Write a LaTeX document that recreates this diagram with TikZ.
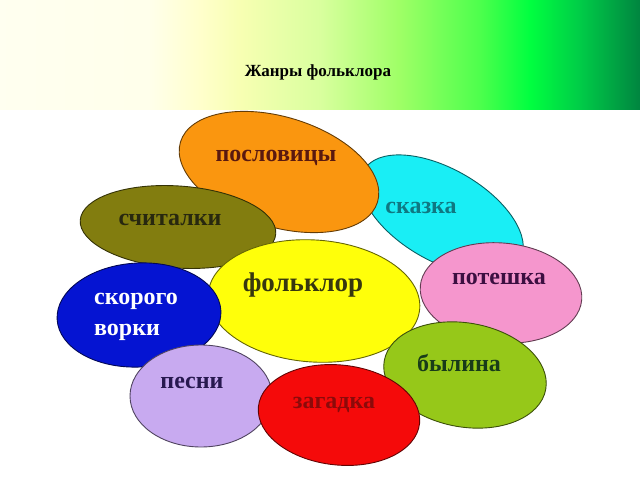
\documentclass[tikz,border=0pt]{standalone}
\usepackage{fontspec}
\setmainfont{Liberation Serif}
\usetikzlibrary{shapes.geometric}

\definecolor{skazkafill}{RGB}{25,238,245}
\definecolor{poslfill}{RGB}{250,150,15}
\definecolor{schitfill}{RGB}{130,125,15}
\definecolor{folkfill}{RGB}{255,255,10}
\definecolor{poteshfill}{RGB}{245,150,205}
\definecolor{bylinafill}{RGB}{150,200,25}
\definecolor{skorfill}{RGB}{5,20,210}
\definecolor{pesnifill}{RGB}{200,170,240}
\definecolor{zagadfill}{RGB}{245,10,10}

\definecolor{posltext}{RGB}{90,25,15}
\definecolor{skazkatext}{RGB}{15,120,130}
\definecolor{schittext}{RGB}{40,40,15}
\definecolor{folktext}{RGB}{55,55,15}
\definecolor{poteshtext}{RGB}{60,15,65}
\definecolor{pesnitext}{RGB}{40,25,80}
\definecolor{zagadtext}{RGB}{140,10,10}
\definecolor{bylinatext}{RGB}{25,60,25}

\pgfdeclarehorizontalshading{bandshade}{100bp}{rgb(0bp)=(1,1,0.94); rgb(25bp)=(1,1,0.94); rgb(36.7bp)=(1,1,0.92); rgb(40.6bp)=(1,1,0.80); rgb(43.75bp)=(0.97,1,0.70); rgb(50bp)=(0.85,1,0.62); rgb(56.25bp)=(0.62,1,0.40); rgb(62.5bp)=(0.30,1,0.30); rgb(66.4bp)=(0,1,0.25); rgb(70.3bp)=(0,0.80,0.28); rgb(75bp)=(0,0.52,0.25); rgb(100bp)=(0,0.52,0.25)}

\tikzset{
  blob/.style={ellipse, draw=#1!40!black, fill=#1, line width=0.9pt, inner sep=0pt},
  lbl/.style={text=#1, font=\bfseries\fontsize{24}{31}\selectfont, inner sep=0pt}
}

\begin{document}
\begin{tikzpicture}[x=1pt, y=1pt]
  \useasboundingbox (0,0) rectangle (640,480);
  % top band
  \shade[shading=bandshade] (0,370) rectangle (640,480);
  \node (title) at (318,408) [font=\bfseries\fontsize{17}{20}\selectfont] {Жанры фольклора};

  % ellipses, back to front
  \node (skazkab) at (442,265) [blob=skazkafill, minimum width=180, minimum height=92, rotate=-30] {};
  \node (poslb) at (279,308) [blob=poslfill, minimum width=206, minimum height=110, rotate=-17] {};
  \node (schitb) at (178,253) [blob=schitfill, minimum width=196, minimum height=82, rotate=-4] {};
  \node (folkb) at (314,179) [blob=folkfill, minimum width=212, minimum height=122, rotate=-4] {};
  \node (poteshb) at (501,187) [blob=poteshfill, minimum width=162, minimum height=100, rotate=-5] {};
  \node (bylinab) at (465,105) [blob=bylinafill, minimum width=164, minimum height=104, rotate=-10] {};
  \node (skorb) at (139,165) [blob=skorfill, minimum width=164, minimum height=104, rotate=3] {};
  \node (pesnib) at (201,84) [blob=pesnifill, minimum width=142, minimum height=102] {};
  \node (zagadb) at (339,65) [blob=zagadfill, minimum width=162, minimum height=100, rotate=-6] {};

  % labels
  \node (posl) at (276,322) [lbl=posltext] {пословицы};
  \node (skazka) at (421,272) [lbl=skazkatext] {сказка};
  \node (schit) at (170,260) [lbl=schittext] {считалки};
  \node (folk) at (303,195) [lbl=folktext, font=\bfseries\fontsize{27}{30}\selectfont] {фольклор};
  \node (potesh) at (499,201) [lbl=poteshtext] {потешка};
  \node (skor) at (136,163) [lbl=white, align=left] {скорого\\ворки};
  \node (pesni) at (192,97) [lbl=pesnitext] {песни};
  \node (zagad) at (334,75) [lbl=zagadtext] {загадка};
  \node (bylina) at (459,117) [lbl=bylinatext] {былина};
\end{tikzpicture}
\end{document}
